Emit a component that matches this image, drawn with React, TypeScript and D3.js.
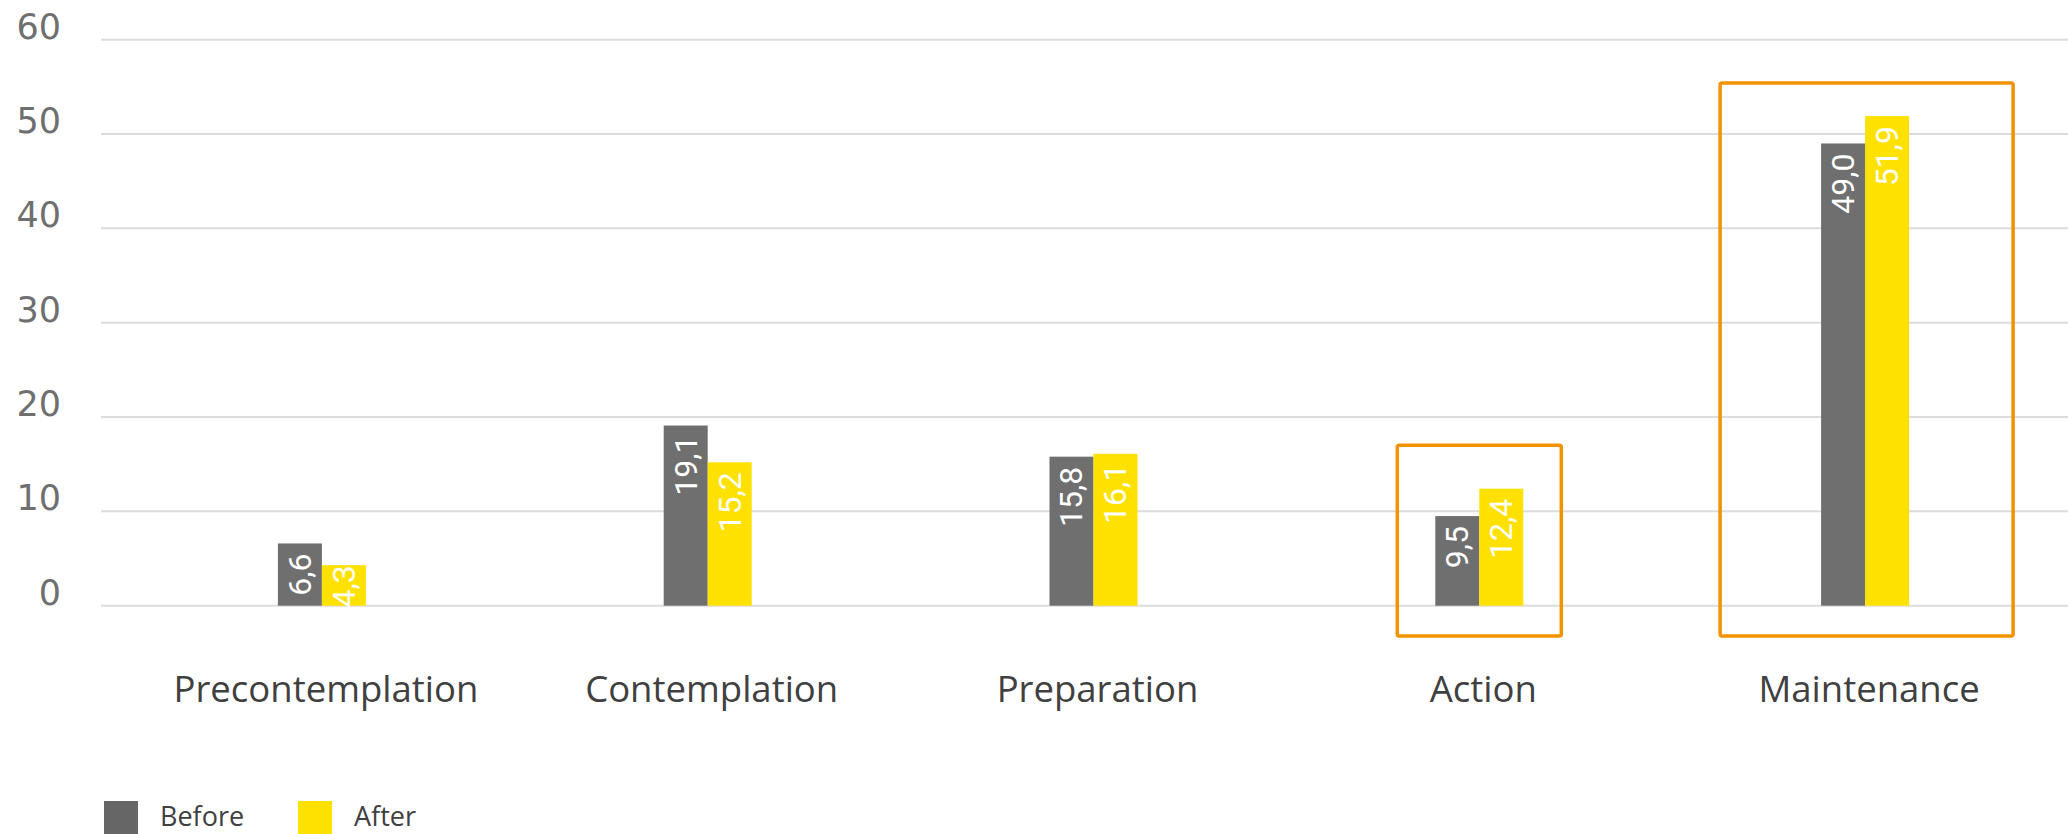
import React from "react";
import * as d3 from "d3";

const categories = ["Precontemplation", "Contemplation", "Preparation", "Action", "Maintenance"];
const seriesNames = ["Before", "After"];
const beforeValues = [6.6, 19.1, 15.8, 9.5, 49.0];
const afterValues = [4.3, 15.2, 16.1, 12.4, 51.9];
const yTicks = [0, 10, 20, 30, 40, 50, 60];
// highlight boxes: category, value range
const highlightCats = ["Action", "Maintenance"];
const highlightTop = [17.0, 55.4];
const highlightBottom = [-3.2, -3.2];

const W = 2068;
const H = 834;
const colors = ["#6f6f6f", "#ffe100"];
const legendColors = ["#666666", "#ffe100"];
const orange = "#f39200";

export default function App() {
  const x = d3.scaleBand<string>().domain(categories).range([129, 2058]).padding(0);
  const sub = d3.scaleBand<string>().domain(seriesNames).range([-44, 44]).padding(0);
  const y = d3.scaleLinear().domain([0, 60]).range([605.7, 39.7]);
  const series = [beforeValues, afterValues];
  const boxHalf = [[-82, 82], [-145, 148]];
  const fmt = (v: number) => v.toFixed(1).replace(".", ",");
  const labelLen = (s: string) => s.length * 14.5;

  return (
    <svg width={W} height={H} style={{ position: "absolute", left: 0, top: 0, display: "block" }}>
      <rect x={0} y={0} width={W} height={H} fill="#ffffff" />
      {yTicks.map((t) => (
        <g key={t}>
          <line x1={101} x2={W} y1={y(t)} y2={y(t)} stroke="#dcdcdc" strokeWidth={2} />
          <text x={61} y={y(t) - 1} textAnchor="end" fontFamily="DejaVu Sans" fontSize={35} fill="#6f6f6f">
            {t}
          </text>
        </g>
      ))}
      {categories.map((c, i) => {
        const cx = (x(c) as number) + x.bandwidth() / 2;
        return (
          <g key={c}>
            {series.map((vals, s) => {
              const v = vals[i];
              const bx = cx + (sub(seriesNames[s]) as number);
              const top = y(v);
              const zero = y(0);
              const label = fmt(v);
              const endY = Math.min(top + 10, zero - labelLen(label) + 3);
              const tx = bx + sub.bandwidth() / 2 + 11;
              return (
                <g key={s}>
                  <rect x={bx} y={top} width={sub.bandwidth()} height={zero - top} fill={colors[s]} />
                  <text
                    x={tx}
                    y={endY}
                    transform={`rotate(-90 ${tx} ${endY})`}
                    textAnchor="end"
                    fontFamily="Roboto"
                    fontSize={32}
                    fill="#ffffff"
                  >
                    {label}
                  </text>
                </g>
              );
            })}
            <text x={cx + 4} y={702} textAnchor="middle" fontFamily="Open Sans" fontSize={36.5} fill="#404040">
              {c}
            </text>
          </g>
        );
      })}
      {highlightCats.map((c, k) => {
        const cx = (x(c) as number) + x.bandwidth() / 2;
        const x0 = cx + boxHalf[k][0];
        const x1 = cx + boxHalf[k][1];
        const y0 = y(highlightTop[k]);
        const y1 = y(highlightBottom[k]);
        return (
          <rect key={c} x={x0} y={y0} width={x1 - x0} height={y1 - y0} fill="none" stroke={orange} strokeWidth={3.5} rx={2} />
        );
      })}
      {seriesNames.map((s, i) => {
        const lx = i === 0 ? 104 : 298;
        return (
          <g key={s}>
            <rect x={lx} y={801} width={34} height={34} fill={legendColors[i]} />
            <text x={lx + 56} y={826} fontFamily="Open Sans" fontSize={27} fill="#404040">
              {s}
            </text>
          </g>
        );
      })}
    </svg>
  );
}
